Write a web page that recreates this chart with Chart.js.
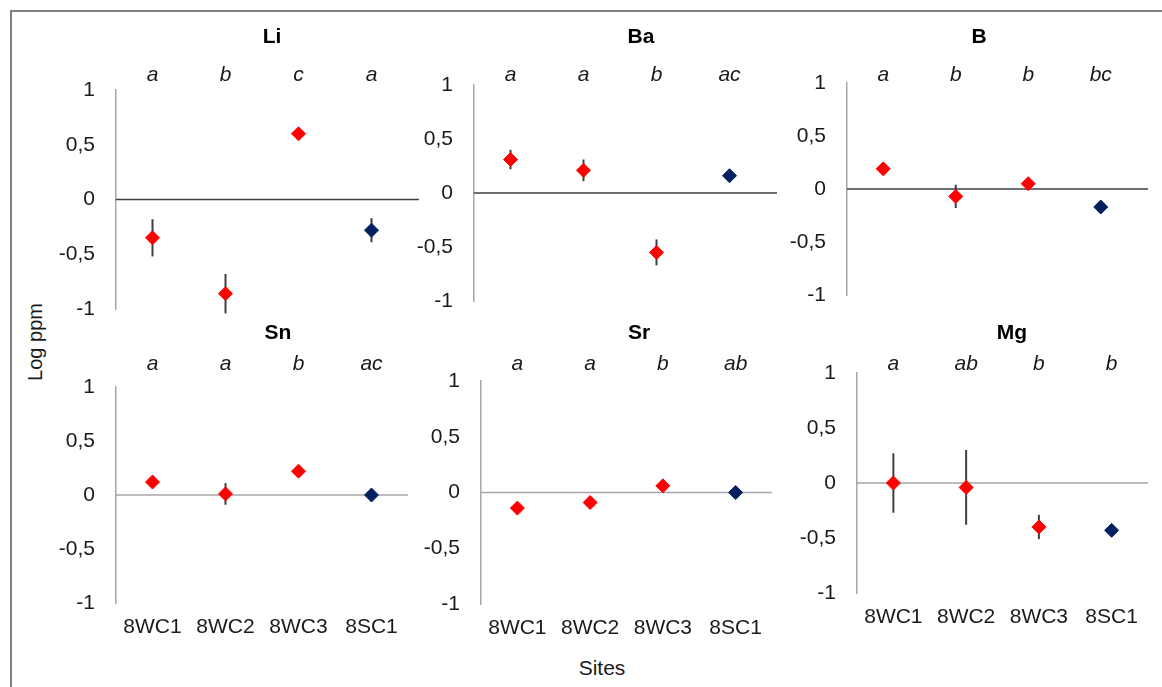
<!DOCTYPE html>
<html><head><meta charset="utf-8">
<script src="https://cdn.jsdelivr.net/npm/chart.js@4/dist/chart.umd.min.js"></script>
<style>
html,body{margin:0;padding:0;background:#fff;}
#wrap{position:relative;width:1162px;height:687px;overflow:hidden;background:#fff;font-family:'Liberation Sans',Arial,sans-serif;}
#frame{position:absolute;left:10px;top:10px;width:1162px;height:687px;border:2px solid #7f7f7f;box-sizing:border-box;}
canvas{position:absolute;}
.lab{position:absolute;color:#1a1a1a;font-size:21px;white-space:nowrap;transform:translate(-50%,-50%);}
#ylab{left:35px;top:342px;transform:translate(-50%,-50%) rotate(-90deg);font-size:20px;}
#xlab{left:602px;top:668px;}
</style></head><body>
<div id="wrap"><div id="frame"></div>
<div class="lab" id="ylab">Log ppm</div><div class="lab" id="xlab">Sites</div>
</div>
<script>
// ---------- data ----------
const sites = ['8WC1', '8WC2', '8WC3', '8SC1'];
const yTickLabels = ['-1', '-0,5', '0', '0,5', '1'];

const liMean = [-0.35, -0.86, 0.60, -0.28];
const liErr  = [0.17, 0.18, 0.03, 0.11];
const liLetters = ['a', 'b', 'c', 'a'];

const baMean = [0.31, 0.21, -0.55, 0.16];
const baErr  = [0.09, 0.10, 0.12, 0.04];
const baLetters = ['a', 'a', 'b', 'ac'];

const bMean = [0.19, -0.07, 0.05, -0.17];
const bErr  = [0.03, 0.11, 0.05, 0.03];
const bLetters = ['a', 'b', 'b', 'bc'];

const snMean = [0.12, 0.01, 0.22, 0.00];
const snErr  = [0.03, 0.10, 0.03, 0.02];
const snLetters = ['a', 'a', 'b', 'ac'];

const srMean = [-0.14, -0.09, 0.06, 0.00];
const srErr  = [0.02, 0.03, 0.02, 0.02];
const srLetters = ['a', 'a', 'b', 'ab'];

const mgMean = [0.00, -0.04, -0.40, -0.43];
const mgErr  = [0.27, 0.34, 0.11, 0.03];
const mgLetters = ['a', 'ab', 'b', 'b'];

// ---------- layout / style ----------
const pointColors = ['#FF0000', '#FF0000', '#FF0000', '#002060'];
const rows = [
  {top: 15, bottom: 350, titleY: 37, letterY: 75, zeroColor: '#404040', zeroExt: 11, showX: false},
  {top: 318, bottom: 662, titleY: 333, letterY: 364, zeroColor: '#A6A6A6', zeroExt: 0, showX: true}
];
const panels = [
  {name: 'Li', mean: liMean, err: liErr, letters: liLetters, row: 0, plot: {l: 116, r: 408, t: 90, b: 309}, titleX: 272},
  {name: 'Ba', mean: baMean, err: baErr, letters: baLetters, row: 0, plot: {l: 474, r: 766, t: 85, b: 301}, titleX: 641},
  {name: 'B',  mean: bMean,  err: bErr,  letters: bLetters,  row: 0, plot: {l: 847, r: 1137, t: 83, b: 295}, titleX: 979},
  {name: 'Sn', mean: snMean, err: snErr, letters: snLetters, row: 1, plot: {l: 116, r: 408, t: 387, b: 603}, titleX: 278},
  {name: 'Sr', mean: srMean, err: srErr, letters: srLetters, row: 1, plot: {l: 481, r: 772, t: 381, b: 604}, titleX: 639},
  {name: 'Mg', mean: mgMean, err: mgErr, letters: mgLetters, row: 1, plot: {l: 857, r: 1148, t: 373, b: 593}, titleX: 1012}
];

Chart.defaults.font.family = "'Liberation Sans', Arial, sans-serif";
Chart.defaults.font.size = 21;
Chart.defaults.color = '#1a1a1a';

const wrap = document.getElementById('wrap');

panels.forEach(p => {
  const row = rows[p.row];
  const cl = p.plot.l - 74, cr = Math.min(p.plot.r + 14, 1162);
  const ct = row.top, cb = row.bottom;
  const cv = document.createElement('canvas');
  cv.width = cr - cl; cv.height = cb - ct;
  cv.style.left = cl + 'px'; cv.style.top = ct + 'px';
  cv.style.width = (cr - cl) + 'px'; cv.style.height = (cb - ct) + 'px';
  wrap.appendChild(cv);

  const deco = {
    id: 'deco',
    beforeDatasetsDraw(chart) {
      const {ctx, chartArea, scales: {x, y}} = chart;
      ctx.save();
      const y0 = y.getPixelForValue(0);
      ctx.strokeStyle = row.zeroColor; ctx.lineWidth = 1.5;
      ctx.beginPath(); ctx.moveTo(chartArea.left, y0); ctx.lineTo(chartArea.right + row.zeroExt, y0); ctx.stroke();
      ctx.strokeStyle = '#3f3f3f'; ctx.lineWidth = 2;
      p.mean.forEach((m, i) => {
        const px = x.getPixelForValue(i);
        ctx.beginPath();
        ctx.moveTo(px, y.getPixelForValue(m + p.err[i]));
        ctx.lineTo(px, y.getPixelForValue(m - p.err[i]));
        ctx.stroke();
      });
      ctx.restore();
    },
    afterDraw(chart) {
      const {ctx, scales: {x}} = chart;
      ctx.save();
      ctx.fillStyle = '#000'; ctx.textAlign = 'center'; ctx.textBaseline = 'middle';
      ctx.font = "bold 21px 'Liberation Sans', Arial, sans-serif";
      ctx.fillText(p.name, p.titleX - cl, row.titleY - ct);
      ctx.font = "italic 21px 'Liberation Sans', Arial, sans-serif";
      ctx.fillStyle = '#1a1a1a';
      p.letters.forEach((s, i) => ctx.fillText(s, x.getPixelForValue(i), row.letterY - ct));
      ctx.restore();
    }
  };

  new Chart(cv, {
    type: 'line',
    data: {
      labels: sites,
      datasets: [{
        data: p.mean,
        showLine: false,
        pointStyle: 'rectRot',
        pointRadius: 7,
        pointBorderWidth: 1,
        pointBackgroundColor: pointColors,
        pointBorderColor: pointColors
      }]
    },
    options: {
      responsive: false,
      animation: false,
      devicePixelRatio: 1,
      events: [],
      layout: {padding: {top: p.plot.t - ct, right: (cr - cl) - (p.plot.r - cl), left: 0, bottom: 0}},
      plugins: {legend: {display: false}, tooltip: {enabled: false}, title: {display: false}},
      scales: {
        x: {
          type: 'category',
          offset: true,
          grid: {display: false, drawTicks: false},
          border: {display: false},
          ticks: {display: row.showX, padding: 12, maxRotation: 0, autoSkip: false, color: '#1a1a1a', font: {size: 21}},
          afterFit: s => { s.height = cb - p.plot.b; }
        },
        y: {
          min: -1, max: 1,
          grid: {display: false, drawTicks: false},
          border: {display: true, color: '#A6A6A6', width: 1.5},
          ticks: {stepSize: 0.5, padding: 21, color: '#1a1a1a', font: {size: 21},
                  callback: (v, i) => yTickLabels[i]},
          afterFit: s => { s.width = p.plot.l - cl; }
        }
      }
    },
    plugins: [deco]
  });
});
</script>
</body></html>
